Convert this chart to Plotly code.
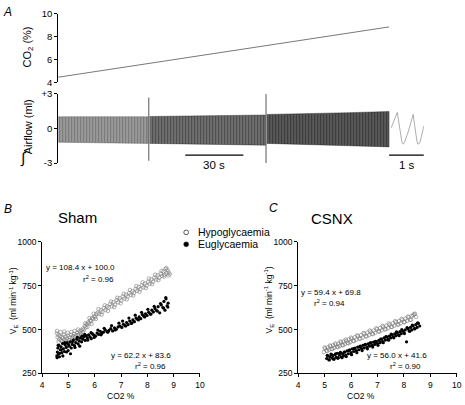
import plotly.graph_objects as go

W, H = 465, 405
FONT = "Arial, Liberation Sans, sans-serif"

# ---------------- Panel A data ----------------
co2_time = [0, 170.8]
co2_pct = [4.45, 8.85]

# envelope of the integrated airflow trace (ml), three recording segments
seg1_time = [0, 15, 30, 46.5]
seg1_upper = [1.0, 1.02, 1.0, 1.0]
seg1_lower = [-1.2, -1.25, -1.25, -1.3]
seg2_time = [47.2, 65, 85, 107.0]
seg2_upper = [1.02, 1.05, 1.1, 1.15]
seg2_lower = [-1.3, -1.35, -1.4, -1.45]
seg3_time = [107.7, 125, 150, 170.8]
seg3_upper = [1.2, 1.25, 1.35, 1.45]
seg3_lower = [-1.3, -1.4, -1.5, -1.6]

spike_time = [46.8, 107.3]
spike_top = [2.65, 2.95]
spike_bottom = [-2.8, -3.0]

# expanded trace (1 s time scale)
exp_time = [0.06, 0.237, 0.25, 0.28, 0.31, 0.34, 0.37, 0.41, 0.45, 0.55, 0.694,
            0.71, 0.74, 0.77, 0.80, 0.829, 0.886, 0.93, 0.97, 1.0]
exp_flow = [0.05, 1.37, 1.1, 0.4, -0.3, -0.85, -1.2, -1.37, -1.15, -0.3, 1.2,
            0.8, 0.1, -0.6, -1.1, -1.37, -1.25, -0.7, -0.15, 0.2]

# ---------------- Panel B (Sham) ----------------
shamH_x = [4.56, 4.59, 4.62, 4.65, 4.68, 4.72, 4.75, 4.79, 4.83, 4.86, 4.90, 4.94, 4.98,
           5.02, 5.06, 5.10, 5.14, 5.18, 5.22, 5.26, 5.30, 5.34, 5.38, 5.42, 5.46, 5.50,
           5.54, 5.58, 5.62, 5.66, 5.70, 5.74, 5.78, 5.82, 5.86, 5.90, 5.94, 5.98, 6.02, 6.06,
           6.11, 6.17, 6.23, 6.29, 6.35, 6.41, 6.47, 6.53, 6.59, 6.65, 6.71, 6.77, 6.83, 6.89,
           6.95, 7.01, 7.07, 7.13, 7.19, 7.25, 7.31, 7.37, 7.43, 7.49, 7.55, 7.61, 7.67, 7.73,
           7.79, 7.85, 7.91, 7.97, 8.03, 8.09, 8.15, 8.21, 8.27, 8.33, 8.39, 8.45, 8.51, 8.56,
           8.61, 8.65, 8.69, 8.73, 8.77, 8.81, 8.85,
           4.57, 4.63, 4.70, 4.77, 4.84, 4.91, 4.97, 5.04, 5.11, 5.17, 5.24, 5.31, 5.37, 5.44, 5.49,
           5.56, 5.64, 5.72, 5.80, 5.88, 5.96, 6.04,
           6.14, 6.26, 6.38, 6.50, 6.62, 6.74, 6.86, 6.98, 7.10, 7.22, 7.34, 7.46, 7.58, 7.70,
           7.82, 7.94, 8.06, 8.18, 8.30, 8.42, 8.54, 8.64, 8.72, 8.80]
shamH_y = [478, 455, 470, 445, 462, 438, 458, 450, 472, 442, 460, 448, 465,
           440, 455, 470, 452, 462, 475, 458, 468, 482, 470, 490, 478, 495,
           505, 498, 520, 512, 530, 540, 535, 552, 548, 565, 560, 575, 570, 588,
           595, 588, 610, 600, 622, 612, 632, 625, 645, 632, 655, 642, 668, 655,
           678, 665, 688, 676, 698, 688, 708, 698, 718, 708, 730, 720, 742, 730,
           752, 740, 762, 750, 772, 762, 785, 772, 795, 785, 808, 795, 818, 805,
           830, 812, 845, 820, 838, 825, 815,
           492, 430, 485, 432, 488, 435, 480, 428, 486, 440, 492, 445, 500, 455, 470,
           485, 535, 515, 565, 532, 590, 560,
           616, 585, 638, 606, 659, 628, 681, 650, 703, 672, 725, 694, 747, 715,
           768, 737, 790, 759, 812, 781, 834, 801, 850, 808]

shamE_x = [4.56, 4.58, 4.60, 4.62, 4.64, 4.66, 4.69, 4.72, 4.75, 4.78, 4.81, 4.85, 4.88,
           4.92, 4.95, 4.99, 5.03, 5.07, 5.11, 5.15, 5.19, 5.23, 5.28, 5.32, 5.37, 5.41,
           5.46, 5.50,
           5.55, 5.60, 5.64, 5.68, 5.72, 5.77, 5.82, 5.87, 5.92, 5.97, 6.03, 6.09, 6.15,
           6.21, 6.27, 6.33, 6.40, 6.47, 6.54, 6.61, 6.68, 6.75, 6.82, 6.89, 6.96,
           7.03, 7.09, 7.15, 7.21, 7.27, 7.33, 7.39, 7.45, 7.51, 7.57, 7.63, 7.69, 7.75,
           7.81, 7.87, 7.93, 7.99, 8.05, 8.11, 8.17, 8.23, 8.29, 8.35, 8.41, 8.47, 8.53,
           8.59, 8.63, 8.67, 8.71, 8.75, 8.79,
           4.57, 4.61, 4.67, 4.73, 4.79, 4.86, 4.93, 5.00, 5.08, 5.16, 5.25, 5.34, 5.43, 5.52,
           5.62, 5.74, 5.86, 5.98, 6.12, 6.24, 6.36, 6.50, 6.64, 6.78, 6.92,
           7.06, 7.18, 7.30, 7.42, 7.54, 7.66, 7.78, 7.90, 8.02, 8.14, 8.26, 8.38, 8.50,
           8.62, 8.70, 8.78]
shamE_y = [350, 372, 395, 360, 410, 345, 385, 402, 368, 420, 390, 375, 412,
           398, 425, 380, 405, 430, 395, 415, 440, 408, 425, 445, 418, 435,
           452, 430,
           445, 460, 438, 465, 452, 470, 458, 448, 475, 468, 462, 480, 472,
           490, 478, 485, 498, 488, 495, 505, 492, 510, 502, 515, 520,
           512, 530, 522, 540, 528, 548, 535, 555, 545, 565, 558, 572, 562,
           585, 575, 590, 580, 598, 588, 610, 600, 620, 608, 630, 595, 640,
           625, 660, 610, 675, 635, 650,
           340, 410, 365, 385, 350, 425, 372, 415, 362, 432, 398, 455, 405, 462,
           472, 440, 482, 455, 497, 470, 507, 485, 522, 498, 536,
           548, 520, 565, 538, 582, 555, 598, 572, 615, 588, 632, 605, 648,
           622, 682, 628]

# ---------------- Panel C (CSNX) ----------------
csnxH_x = [4.97, 5.02, 5.07, 5.12, 5.17, 5.22, 5.27, 5.32, 5.37, 5.42, 5.47, 5.52, 5.57,
           5.62, 5.67, 5.72, 5.77, 5.82, 5.87, 5.92, 5.97, 6.02, 6.08, 6.14, 6.20, 6.26,
           6.32, 6.38, 6.44, 6.50, 6.56, 6.62, 6.68, 6.74, 6.80, 6.86, 6.92, 6.98, 7.04,
           7.10, 7.16, 7.22, 7.28, 7.34, 7.40, 7.46, 7.52, 7.58, 7.64, 7.70, 7.76, 7.82,
           7.88, 7.94, 8.00, 8.06, 8.12, 8.18, 8.24, 8.30, 8.36, 8.42, 8.46,
           5.00, 5.10, 5.20, 5.30, 5.40, 5.50, 5.60, 5.70, 5.80, 5.90, 6.00, 6.11, 6.23,
           6.35, 6.47, 6.59, 6.71, 6.83, 6.95, 7.07, 7.19, 7.31, 7.43, 7.55, 7.67, 7.79,
           7.91, 8.03, 8.15, 8.27, 8.39]
csnxH_y = [372, 392, 380, 398, 386, 404, 390, 410, 396, 414, 402, 420, 406,
           426, 412, 432, 418, 436, 424, 444, 428, 448, 436, 456, 442, 462,
           448, 468, 455, 476, 462, 482, 468, 488, 476, 494, 482, 502, 490,
           508, 496, 515, 502, 522, 508, 528, 515, 535, 522, 542, 528, 548,
           536, 556, 542, 562, 550, 570, 556, 578, 582, 590, 572,
           398, 378, 409, 389, 420, 400, 432, 411, 443, 422, 454, 434, 467,
           448, 480, 461, 494, 474, 507, 488, 521, 501, 534, 515, 548, 528,
           561, 542, 574, 555, 588]

csnxE_x = [5.08, 5.12, 5.16, 5.20, 5.24, 5.28, 5.32, 5.36, 5.40, 5.44, 5.48, 5.52, 5.56,
           5.60, 5.64, 5.68, 5.72, 5.76, 5.80, 5.85, 5.90, 5.95, 6.00, 6.05, 6.10, 6.15,
           6.20, 6.25, 6.30, 6.35, 6.40, 6.45, 6.50, 6.55, 6.60, 6.65, 6.70, 6.75, 6.80,
           6.85, 6.90, 6.95, 7.00, 7.05, 7.10, 7.15, 7.20, 7.25, 7.30, 7.35, 7.40, 7.45,
           7.50, 7.55, 7.60, 7.65, 7.70, 7.75, 7.80, 7.85, 7.90, 7.95, 8.00, 8.05, 8.10,
           8.15, 8.20, 8.25, 8.30, 8.35, 8.40, 8.45, 8.50, 8.55, 8.60,
           5.10, 5.18, 5.26, 5.34, 5.42, 5.50, 5.58, 5.66, 5.74, 5.82, 5.92, 6.02, 6.12,
           6.22, 6.32, 6.42, 6.52, 6.62, 6.72, 6.82, 6.92, 7.02, 7.12, 7.22, 7.32, 7.42,
           7.52, 7.62, 7.72, 7.82, 7.92, 8.02, 8.12, 8.22, 8.32, 8.42, 8.52]
csnxE_y = [335, 350, 328, 345, 360, 338, 352, 332, 358, 342, 365, 340, 355,
           370, 345, 362, 350, 372, 355, 378, 362, 385, 368, 390, 375, 395,
           380, 400, 385, 405, 392, 410, 395, 415, 400, 418, 405, 425, 410,
           428, 415, 432, 420, 438, 425, 445, 432, 452, 440, 458, 446, 462,
           452, 470, 458, 475, 465, 482, 470, 488, 476, 492, 482, 498, 430,
           505, 492, 512, 498, 520, 505, 528, 512, 535, 520,
           353, 327, 357, 331, 362, 336, 366, 340, 371, 346, 380, 357, 391,
           368, 402, 380, 413, 390, 423, 400, 433, 410, 445, 425, 460, 439,
           474, 453, 487, 465, 499, 477, 511, 490, 525, 504, 538]

CO2_TICKS = [4, 6, 8, 10]
FLOW_TICKS = [-3, 0, 3]
FLOW_TICKTEXT = ["-3", "0", "+3"]
X_TICKS = [4, 5, 6, 7, 8, 9, 10]
VE_TICKS = [250, 500, 750, 1000]


def px(x):
    return x / W


def py(y):
    return 1 - y / H


fig = go.Figure()

# ---- Panel A traces
fig.add_trace(go.Scatter(x=co2_time, y=co2_pct, mode="lines",
                         line=dict(color="#555555", width=0.8), xaxis="x", yaxis="y"))

for t, up, lo, bg, fg in [(seg1_time, seg1_upper, seg1_lower, "#a0a0a0", "#505050"),
                          (seg2_time, seg2_upper, seg2_lower, "#767676", "#1e1e1e"),
                          (seg3_time, seg3_upper, seg3_lower, "#5e5e5e", "#161616")]:
    fig.add_trace(go.Scatter(x=t + t[::-1], y=up + lo[::-1], mode="lines", fill="toself",
                             fillcolor=bg,
                             fillpattern=dict(shape="|", bgcolor=bg, fgcolor=fg, size=3, solidity=0.45),
                             line=dict(color=fg, width=0.4),
                             xaxis="x2", yaxis="y2"))

for t, top, bot in zip(spike_time, spike_top, spike_bottom):
    fig.add_trace(go.Scatter(x=[t, t], y=[bot, top], mode="lines",
                             line=dict(color="#444444", width=0.9), xaxis="x2", yaxis="y2"))

fig.add_trace(go.Scatter(x=exp_time, y=exp_flow, mode="lines",
                         line=dict(color="#8a8a8a", width=0.7),
                         xaxis="x3", yaxis="y3"))

# ---- Panel B / C scatter
open_m = dict(symbol="circle-open", size=3.6, color="#7a7a7a", line=dict(width=0.6))
fill_m = dict(symbol="circle", size=3.2, color="black")
fig.add_trace(go.Scatter(x=shamH_x, y=shamH_y, mode="markers", marker=open_m, xaxis="x4", yaxis="y4"))
fig.add_trace(go.Scatter(x=shamE_x, y=shamE_y, mode="markers", marker=fill_m, xaxis="x4", yaxis="y4"))
fig.add_trace(go.Scatter(x=csnxH_x, y=csnxH_y, mode="markers", marker=open_m, xaxis="x5", yaxis="y5"))
fig.add_trace(go.Scatter(x=csnxE_x, y=csnxE_y, mode="markers", marker=fill_m, xaxis="x5", yaxis="y5"))

axcommon = dict(showgrid=False, zeroline=False, showline=True, linecolor="black", linewidth=1,
                ticks="outside", ticklen=3, tickcolor="black", tickwidth=1)

PX_PER_S = 1.967
time_range = [0, (W - 57) / PX_PER_S]

fig.update_layout(
    width=W, height=H, margin=dict(l=0, r=0, t=0, b=0),
    paper_bgcolor="white", plot_bgcolor="rgba(0,0,0,0)", showlegend=False,
    font=dict(family=FONT, color="black"),
    xaxis=dict(domain=[px(57), 1], range=time_range, visible=False, anchor="y"),
    yaxis=dict(domain=[py(78.5), py(8)], range=[4, 10], tickvals=CO2_TICKS, anchor="x",
               tickfont=dict(size=9.5), **axcommon),
    xaxis2=dict(domain=[px(57), 1], range=time_range, visible=False, anchor="y2"),
    yaxis2=dict(domain=[py(161.5), py(90)], range=[-3, 3], tickvals=FLOW_TICKS,
                ticktext=FLOW_TICKTEXT, anchor="x2", tickfont=dict(size=9.5), **axcommon),
    xaxis3=dict(domain=[px(393), px(428.3)], range=[0, 1], visible=False, anchor="y3"),
    yaxis3=dict(domain=[py(161.5), py(90)], range=[-3, 3], visible=False, anchor="x3"),
    xaxis4=dict(domain=[px(40.7), px(201)], range=[4, 10], tickvals=X_TICKS, anchor="y4",
                tickfont=dict(size=8.5), **axcommon),
    yaxis4=dict(domain=[py(377.7), py(242.3)], range=[250, 1000], tickvals=VE_TICKS, anchor="x4",
                tickfont=dict(size=8.5), **axcommon),
    xaxis5=dict(domain=[px(300.7), px(461.7)], range=[4, 10], tickvals=X_TICKS, anchor="y5",
                tickfont=dict(size=8.5), **axcommon),
    yaxis5=dict(domain=[py(377.7), py(242.3)], range=[250, 1000], tickvals=VE_TICKS, anchor="x5",
                tickfont=dict(size=8.5), **axcommon),
)

anns = []


def ann(text, x, y, size, xanchor="center", yanchor="middle", angle=0, color="black"):
    anns.append(dict(text=text, x=px(x), y=py(y), xref="paper", yref="paper", showarrow=False,
                     xanchor=xanchor, yanchor=yanchor, textangle=angle,
                     font=dict(size=size, family=FONT, color=color)))


ann("<i>A</i>", 6, 6.5, 12)
ann("<i>B</i>", 6, 209, 12)
ann("<i>C</i>", 276, 208, 12)
ann("CO<sub>2</sub> (%)", 26.5, 42.5, 11, angle=-90)
ann("Airflow (ml)", 26, 124, 11, angle=-90)
ann("∫", 22, 156, 15)
ann("30 s", 215.5, 163.5, 11.5)
ann("1 s", 411, 163.5, 11.5)
ann("Sham", 77, 217.5, 15)
ann("CSNX", 335.3, 218, 15)
ann("Hypoglycaemia", 197, 232.7, 10.5, xanchor="left")
ann("Euglycaemia", 197, 245, 10.5, xanchor="left")
ann("y = 108.4 x + 100.0", 43, 269, 8, xanchor="left")
ann("r<sup>2</sup> = 0.96", 80, 280.5, 8, xanchor="left")
ann("y = 62.2 x + 83.6", 108.3, 359.3, 8, xanchor="left")
ann("r<sup>2</sup> = 0.96", 133.3, 370, 8, xanchor="left")
ann("y = 59.4 x + 69.8", 301.7, 294, 8, xanchor="left")
ann("r<sup>2</sup> = 0.94", 315, 305.7, 8, xanchor="left")
ann("y = 56.0 x + 41.6", 368.3, 359.3, 8, xanchor="left")
ann("r<sup>2</sup> = 0.90", 391.7, 370, 8, xanchor="left")
ann("CO2 %", 120.5, 400.7, 8.5)
ann("CO2 %", 364, 400.7, 8.5)
ann("V<sub>E</sub>  (ml min<sup>-1</sup> kg<sup>-1</sup>)", 11.7, 303, 8.5, angle=-90)
ann("V<sub>E</sub>  (ml min<sup>-1</sup> kg<sup>-1</sup>)", 271, 301.7, 8.5, angle=-90)
fig.update_layout(annotations=anns)

shapes = [
    # 30 s scale bar (time axis) and 1 s scale bar (expanded axis)
    dict(type="line", xref="x2", yref="paper", x0=65.6, x1=95.6, y0=py(153.3), y1=py(153.3),
         line=dict(color="black", width=1.3)),
    dict(type="line", xref="x3", yref="paper", x0=0, x1=1, y0=py(153.3), y1=py(153.3),
         line=dict(color="black", width=1.3)),
    # legend symbols
    dict(type="circle", xref="paper", yref="paper", x0=px(184.6), x1=px(189.4),
         y0=py(235.1), y1=py(230.3), line=dict(color="#444444", width=0.9), fillcolor="white"),
    dict(type="circle", xref="paper", yref="paper", x0=px(184.5), x1=px(189.5),
         y0=py(247.5), y1=py(242.5), line=dict(color="black", width=0.5), fillcolor="black"),
]
fig.update_layout(shapes=shapes)

fig.write_html("out.html", config={"displayModeBar": False},
               post_script="document.body.style.margin='0px';document.body.style.overflow='hidden';")
